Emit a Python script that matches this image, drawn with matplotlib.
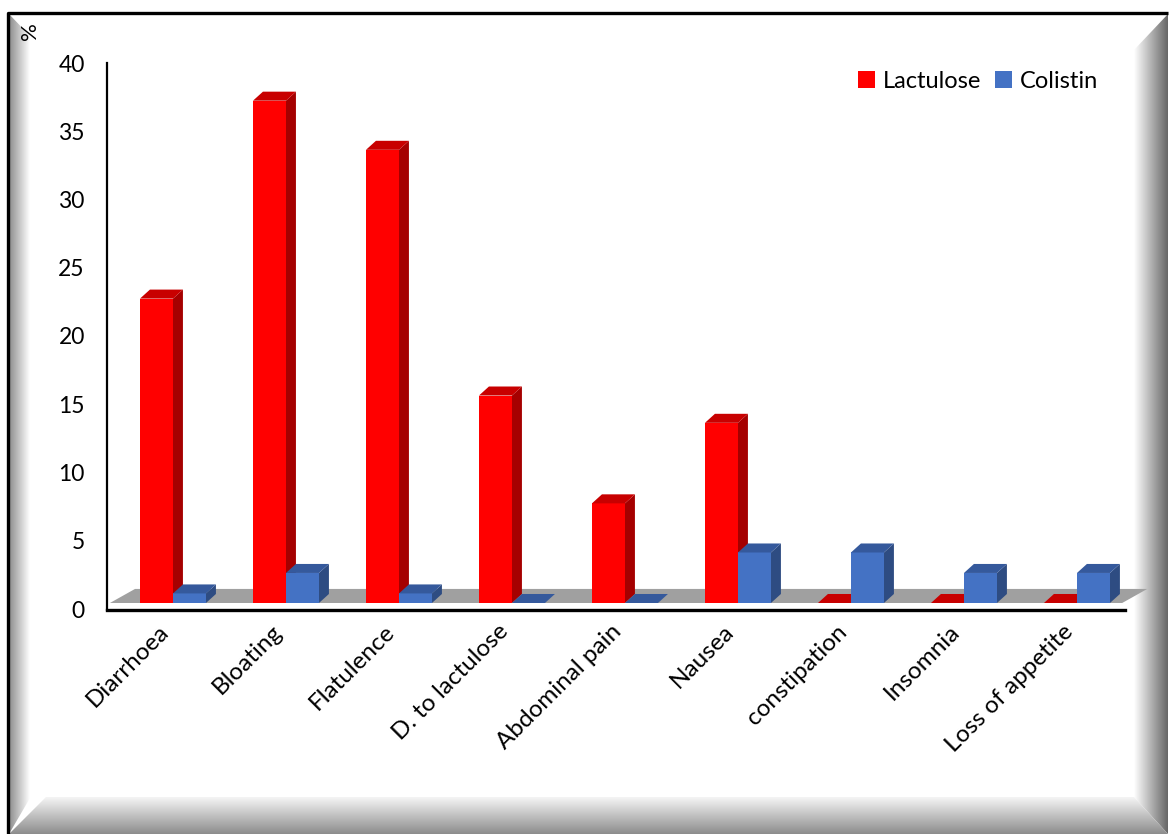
import numpy as np
import matplotlib
matplotlib.use("Agg")
import matplotlib.pyplot as plt
from matplotlib.patches import Polygon, Patch

plt.rcParams['font.family'] = ['Lato', 'DejaVu Sans']

# ---- data -------------------------------------------------------------------
categories = ["Diarrhoea", "Bloating", "Flatulence", "D. to lactulose", "Abdominal pain",
              "Nausea", "constipation", "Insomnia", "Loss of appetite"]
lactulose = [22.3, 36.8, 33.2, 15.2, 7.3, 13.2, 0, 0, 0]
colistin = [0.7, 2.2, 0.7, 0, 0, 3.7, 3.7, 2.2, 2.2]
series_names = ["Lactulose", "Colistin"]

# ---- style ------------------------------------------------------------------
W, H = 1169, 834
BAR_W = 0.292                      # bar width in category units
DX, DY = 0.088, 0.66               # 3d depth offset of the bars (data units)
LIFT = 0.44                        # bars stand on the floor front edge
FLOOR_DX, FLOOR_DY = 0.222, 1.03
COLORS = {                         # front, side, top
    "Lactulose": ("#ff0000", "#a50000", "#c80000"),
    "Colistin": ("#4472c4", "#2e4c82", "#35599c"),
}

fig = plt.figure(figsize=(W / 100, H / 100), dpi=100)

# ---- bevelled frame background ---------------------------------------------
bg = fig.add_axes([0, 0, 1, 1], zorder=-10)
bg.set_xlim(0, W); bg.set_ylim(H, 0); bg.axis("off")


def gradient(poly, extent, horizontal, c0, c1):
    """Fill a polygon with a linear grey gradient from c0 to c1."""
    p = Polygon(poly, closed=True, fc="none", ec="none")
    bg.add_patch(p)
    t = np.linspace(0, 1, 256)
    vals = c0 + (c1 - c0) * t
    img = vals[None, :] if horizontal else vals[:, None]
    im = bg.imshow(img, cmap="gray", vmin=0, vmax=1, extent=extent,
                   aspect="auto", interpolation="bilinear")
    im.set_clip_path(p)


gradient([(9, 14), (30, 36), (30, 798), (9, 834)], (9, 30, 834, 14), True, 0.55, 1.0)
gradient([(1168, 14), (1134, 50), (1134, 797), (1168, 834)], (1134, 1168, 834, 14), True, 1.0, 0.40)
gradient([(9, 834), (46, 797), (1134, 797), (1168, 834)], (9, 1168, 834, 797), False, 0.96, 0.55)
bg.plot([8, 8, 1168], [834, 13, 13], color="black", lw=2.4, solid_capstyle="butt")

fig.text(30 / W, 1 - 31 / H, "%", rotation=90, fontsize=16, ha="center", va="center")

# ---- chart axes -------------------------------------------------------------
ax = fig.add_axes([107 / W, 1 - 609 / H, (1125 - 107) / W, (609 - 63) / H])
xmin, xmax = -0.584, 8.425
ax.set_xlim(xmin, xmax)
ax.set_ylim(0, 40)
x = np.arange(len(categories))

# floor
floor = Polygon([(-0.558, LIFT), (-0.558 + FLOOR_DX, LIFT + FLOOR_DY),
                 (8.40 + FLOOR_DX, LIFT + FLOOR_DY), (8.40, LIFT)],
                closed=True, fc="#a0a0a0", ec="none", zorder=1, clip_on=False)
ax.add_patch(floor)

z = 2
for k, (name, vals) in enumerate(zip(series_names, [lactulose, colistin])):
    front, side, top = COLORS[name]
    xs = x + (k - 0.5) * BAR_W
    ax.bar(xs, vals, width=BAR_W, bottom=LIFT, color=front, zorder=z + 1 + 3 * k, linewidth=0)
    for xi, v in zip(xs, vals):
        l, r = xi - BAR_W / 2, xi + BAR_W / 2
        b, t = LIFT, LIFT + v
        if v > 0:
            ax.add_patch(Polygon([(r, b), (r + DX, b + DY), (r + DX, t + DY), (r, t)],
                                 fc=side, ec="none", zorder=z + 3 * k))
        ax.add_patch(Polygon([(l, t), (l + DX, t + DY), (r + DX, t + DY), (r, t)],
                             fc=top, ec="none", zorder=z + 2 + 3 * k))

# axes decoration
for s in ["top", "right"]:
    ax.spines[s].set_visible(False)
ax.spines["left"].set_linewidth(1.6)
ax.spines["left"].set_bounds(-0.05, 40)
ax.spines["bottom"].set_linewidth(2.4)
ax.spines["bottom"].set_position(("data", -0.04))
ax.set_yticks(range(0, 41, 5))
ax.tick_params(axis="y", length=0, pad=16, labelsize=16.5)
ax.set_xticks(x)
ax.set_xticklabels(categories, rotation=45, ha="right", fontsize=17.5)
ax.tick_params(axis="x", length=0, pad=8)

handles = [Patch(fc=COLORS[n][0], ec="none") for n in series_names]
fig.legend(handles, series_names, loc="center left", bbox_to_anchor=(858 / W, 1 - 81 / H),
           ncol=2, frameon=False, fontsize=17, handlelength=0.7, handleheight=0.7,
           handletextpad=0.35, columnspacing=0.6, borderaxespad=0, borderpad=0)

fig.savefig("out.png", dpi=100)
